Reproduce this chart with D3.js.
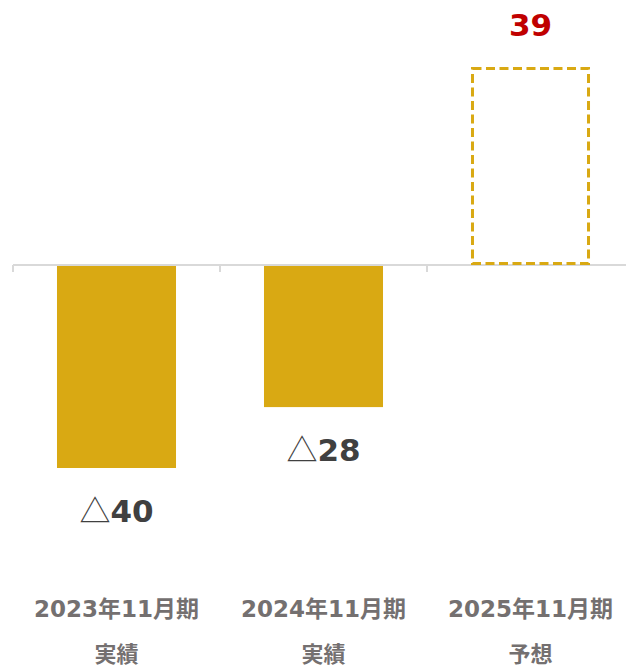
<!DOCTYPE html>
<html><head><meta charset="utf-8">
<script src="https://cdn.jsdelivr.net/npm/d3@7"></script>
<style>body{margin:0;background:#fff;} svg{display:block;}</style>
</head><body>
<script>
const categories = ["2023年11月期", "2024年11月期", "2025年11月期"];
const subLabels = ["実績", "実績", "予想"];
const values = [-40, -28, 39];
const valueLabels = ["40", "28", "39"];
const forecast = [false, false, true];

const W = 626, H = 667;
const svg = d3.select("body").append("svg").attr("width", W).attr("height", H);

const x = d3.scaleBand().domain(categories).range([13, 634]).paddingInner(0.425).paddingOuter(0.2125);
const y = d3.scaleLinear().domain([39, -40]).range([67, 468]);
const gold = "#d9a913";

const data = categories.map((c, i) => ({c, v: values[i], sub: subLabels[i], lab: valueLabels[i], f: forecast[i]}));

// solid bars
svg.selectAll("rect.bar").data(data.filter(d => !d.f)).enter().append("rect")
  .attr("class", "bar")
  .attr("x", d => x(d.c)).attr("width", x.bandwidth())
  .attr("y", d => y(Math.max(0, d.v))).attr("height", d => Math.abs(y(d.v) - y(0)))
  .attr("fill", gold);

// axis
const step = x.step();
const axisG = svg.append("g");
axisG.append("line").attr("x1", 13).attr("x2", W).attr("y1", y(0)).attr("y2", y(0))
  .attr("stroke", "#d9d9d9").attr("stroke-width", 2);
categories.forEach(c => {
  const tx = x(c) - x.paddingInner() * step / 2;
  axisG.append("line").attr("x1", tx).attr("x2", tx).attr("y1", y(0)).attr("y2", y(0) + 7)
    .attr("stroke", "#d9d9d9").attr("stroke-width", 2);
});

// forecast dashed bars
svg.selectAll("rect.fc").data(data.filter(d => d.f)).enter().append("rect")
  .attr("class", "fc")
  .attr("x", d => x(d.c) + 1.5).attr("width", x.bandwidth() - 3)
  .attr("y", d => y(Math.max(0, d.v)) + 1.5).attr("height", d => Math.abs(y(d.v) - y(0)) - 3)
  .attr("fill", "none").attr("stroke", gold).attr("stroke-width", 3)
  .attr("stroke-dasharray", "9,4.5");

// value labels
const vl = svg.selectAll("text.val").data(data).enter().append("text")
  .attr("class", "val")
  .attr("x", d => x(d.c) + x.bandwidth() / 2)
  .attr("y", d => d.v < 0 ? y(d.v) + 54 : y(d.v) - 31)
  .attr("text-anchor", "middle")
  .attr("font-family", "'DejaVu Sans', 'Noto Sans CJK JP', sans-serif")
  .attr("font-size", 31).attr("font-weight", "bold")
  .attr("fill", d => d.f ? "#c00000" : "#404040");
vl.filter(d => d.v < 0).append("tspan").attr("font-weight", "normal").attr("font-family", "'Noto Sans CJK JP', sans-serif").text("△");
vl.append("tspan").text(d => d.lab);

// category labels
const cl = svg.append("g").attr("font-family", "'DejaVu Sans', 'Noto Sans CJK JP', sans-serif")
  .attr("font-weight", "bold").attr("fill", "#747070").attr("text-anchor", "middle");
data.forEach(d => {
  const cx = x(d.c) + x.bandwidth() / 2;
  cl.append("text").attr("x", cx).attr("y", 617).attr("font-size", 23).text(d.c);
  cl.append("text").attr("x", cx).attr("y", 662).attr("font-size", 22).text(d.sub);
});
</script>
</body></html>
